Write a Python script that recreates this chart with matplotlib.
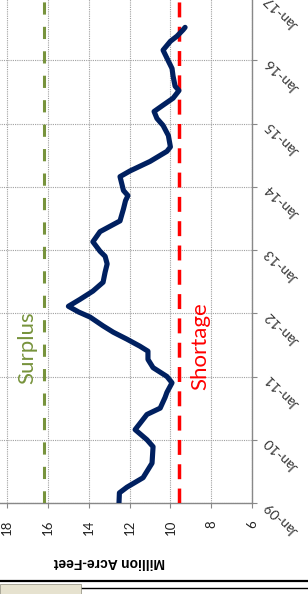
import matplotlib.pyplot as plt
from matplotlib.lines import Line2D
from matplotlib.patches import Rectangle

# years since Jan-2009 and storage (million acre-feet)
years = [0.00, 0.16, 0.25, 0.40, 0.63, 0.89, 1.00, 1.16, 1.40, 1.50, 1.67, 1.75,
         1.90, 2.00, 2.14, 2.27, 2.40, 2.48, 2.59, 2.70, 2.80, 2.94, 3.02, 3.11,
         3.22, 3.35, 3.49, 3.65, 3.78, 3.90, 3.98, 4.13, 4.29, 4.46, 4.65, 4.78,
         4.86, 4.94, 5.16, 5.25, 5.40, 5.56, 5.63, 5.81, 5.97, 6.08, 6.19, 6.29,
         6.40, 6.52, 6.59, 6.75, 6.87, 7.00, 7.16, 7.30, 7.38, 7.48, 7.52]
storage = [12.52, 12.50, 12.13, 11.34, 10.90, 10.85, 11.15, 11.73, 11.15, 10.50, 10.26, 10.17,
           9.92, 10.17, 10.85, 11.10, 11.10, 11.50, 12.13, 12.80, 13.30, 13.94, 14.50, 15.00,
           14.43, 13.80, 13.30, 13.20, 13.10, 13.20, 13.45, 13.80, 13.45, 12.47, 12.30, 12.20,
           12.08, 12.30, 12.47, 11.98, 11.00, 10.17, 10.00, 10.10, 10.36, 10.66, 10.80, 10.36,
           9.87, 9.58, 9.77, 9.87, 9.92, 10.12, 10.36, 10.00, 9.68, 9.38, 9.28]
surplus_level = 16.2
shortage_level = 9.6
value_ticks = [6, 8, 10, 12, 14, 16, 18]
date_labels = ['Jan-09', 'Jan-10', 'Jan-11', 'Jan-12', 'Jan-13',
               'Jan-14', 'Jan-15', 'Jan-16', 'Jan-17']

W, H = 308, 594
fig = plt.figure(figsize=(W / 100, H / 100), dpi=100)
fig.patch.set_facecolor('white')
# chart is shown turned a quarter turn counter-clockwise
ax = fig.add_axes([-33.6 / W, 91 / H, 285.6 / W, 506 / H])

ax.plot(storage, years, color='#002060', lw=3.7, solid_capstyle='round', zorder=4)
ax.axvline(surplus_level, color='#77933C', lw=2.2, dashes=(4, 4), zorder=3)
ax.axvline(shortage_level, color='#FF0000', lw=2.5, dashes=(4.3, 2.7), zorder=3)

ax.text(surplus_level + 0.83, 2.45, 'Surplus', rotation=90, color='#77933C',
        fontsize=16, family='Lato', ha='center', va='center')
ax.text(shortage_level - 1.05, 2.48, 'Shortage', rotation=90, color='#FF0000',
        fontsize=16, family='Lato', ha='center', va='center')

ax.set_xlim(20, 6)
ax.set_ylim(0, 8)
ax.set_xticks(value_ticks)
ax.set_xticklabels([str(v) for v in value_ticks], rotation=90, family='Lato',
                   fontsize=9.5, color='#222222')
ax.set_yticks(range(len(date_labels)))
ax.yaxis.tick_right()
ax.set_yticklabels(date_labels, family='Lato', fontsize=10, color='#333333')
plt.setp(ax.get_yticklabels(), rotation=135, rotation_mode='anchor',
         ha='right', va='center')

ax.tick_params(axis='x', direction='out', length=3.6, pad=8.6, color='#888888')
ax.tick_params(axis='y', direction='out', length=3.6, pad=7.2, color='#888888')
ax.grid(True, color='#A0A0A0', lw=0.8, linestyle=(0, (1, 1)))
ax.set_axisbelow(True)

for s in ['top', 'left']:
    ax.spines[s].set_visible(False)
for s in ['bottom', 'right']:
    ax.spines[s].set_color('#888888')
    ax.spines[s].set_linewidth(1.0)

ax.set_xlabel('Million Acre-Feet', family='Liberation Sans', fontweight='bold',
              fontsize=10, rotation=180, va='center')
ax.xaxis.set_label_coords(0.5, (32 - 91) / 506)

# window edge below the chart
fig.add_artist(Line2D([0, 1], [1 - 581 / H, 1 - 581 / H], color='black', lw=1.6,
                      transform=fig.transFigure))
fig.add_artist(Rectangle((0, 0), 81 / W, 10 / H, facecolor='#E6E2CF', edgecolor='#9C9A8C',
                         lw=0.6, transform=fig.transFigure))
fig.add_artist(Line2D([82 / W, 1], [1 - 588 / H, 1 - 588 / H], color='black', lw=1.0,
                      transform=fig.transFigure))

fig.savefig('out.png', dpi=100)
